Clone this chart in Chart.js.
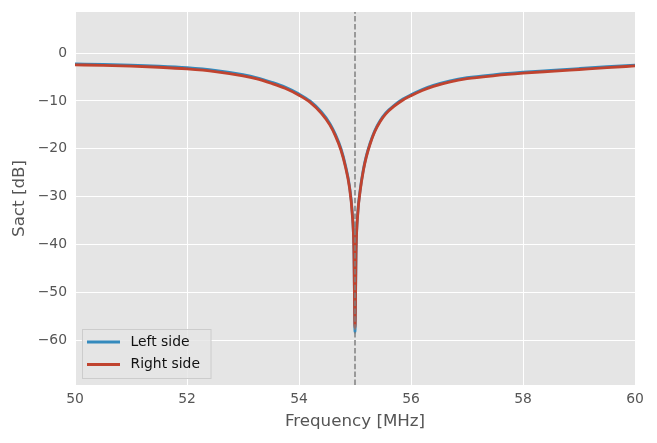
<!DOCTYPE html>
<html>
<head>
<meta charset="utf-8">
<script src="https://cdn.jsdelivr.net/npm/chart.js@4.4.1/dist/chart.umd.min.js"></script>
<style>
  html, body { margin: 0; padding: 0; background: #ffffff; }
  #wrap { width: 657px; height: 443px; }
</style>
</head>
<body>
<div id="wrap"><canvas id="chart" width="657" height="443"></canvas></div>
<script>
// Data
const freq = [50, 50.5, 51, 51.5, 52, 52.5, 53, 53.25, 53.5, 53.75, 54, 54.2, 54.4, 54.55, 54.65, 54.75, 54.83, 54.9, 54.95, 54.98, 55,
              55.02, 55.05, 55.09, 55.15, 55.2, 55.27, 55.35, 55.45, 55.55, 55.7, 55.85, 56, 56.2, 56.4, 56.7, 57, 57.5, 58, 58.5, 59, 59.5, 60];
const leftSide = [-2.25, -2.35, -2.5, -2.72, -3.05, -3.6, -4.5, -5.15, -6.05, -7.1, -8.55, -10.05, -12.3, -14.7, -17.0, -20.0, -23.5, -27.7, -33.2, -41, -58.4,
                  -41, -33.3, -28.8, -24.3, -21.6, -18.8, -16.3, -14.1, -12.5, -10.9, -9.65, -8.7, -7.6, -6.75, -5.8, -5.15, -4.5, -4.0, -3.6, -3.22, -2.85, -2.5];
const rightSide = [-2.45, -2.55, -2.7, -2.95, -3.3, -3.85, -4.75, -5.4, -6.3, -7.35, -8.8, -10.3, -12.6, -15.0, -17.3, -20.3, -23.8, -28.0, -33.5, -41, -57.4,
                   -41, -33.5, -29.0, -24.5, -21.8, -19.0, -16.5, -14.3, -12.7, -11.1, -9.85, -8.9, -7.8, -6.95, -6.0, -5.35, -4.7, -4.2, -3.8, -3.42, -3.04, -2.68];
const xTicks = [50, 52, 54, 56, 58, 60];
const yTicks = [-60, -50, -40, -30, -20, -10, 0];
const xRange = [50, 60];
const yRange = [-69.4, 8.6];
const resonance = 55;
const seriesNames = ['Left side', 'Right side'];
const seriesColors = ['#348ABD', '#C0432F'];

const FONT = "'DejaVu Sans', sans-serif";

// grey panel behind the plot
const panelBg = {
    id: 'panelBg',
    beforeDraw(chart) {
        const { ctx, chartArea: a } = chart;
        ctx.save();
        ctx.fillStyle = '#E5E5E5';
        ctx.fillRect(a.left, a.top, a.right - a.left, a.bottom - a.top);
        ctx.restore();
    }
};

// legend box in the lower left corner of the plot
const innerLegend = {
    id: 'innerLegend',
    afterDraw(chart) {
        const { ctx, chartArea: a } = chart;
        const x = a.left + 7.5, y = a.bottom - 55.5, w = 128.5, h = 49;
        ctx.save();
        ctx.fillStyle = 'rgba(229,229,229,0.8)';
        ctx.fillRect(x, y, w, h);
        ctx.strokeStyle = '#CCCCCC';
        ctx.lineWidth = 1;
        ctx.strokeRect(x, y, w, h);
        ctx.font = '13.9px ' + FONT;
        ctx.textBaseline = 'middle';
        ctx.textAlign = 'left';
        seriesNames.forEach((name, i) => {
            const ly = y + 12.5 + i * 22.5;
            ctx.strokeStyle = seriesColors[i];
            ctx.lineWidth = 2.8;
            ctx.beginPath();
            ctx.moveTo(x + 4.5, ly);
            ctx.lineTo(x + 37.5, ly);
            ctx.stroke();
            ctx.fillStyle = '#111111';
            ctx.fillText(name, x + 48, ly);
        });
        ctx.restore();
    }
};

const minus = v => String(v).replace('-', '\u2212');

new Chart(document.getElementById('chart'), {
    type: 'line',
    data: {
        datasets: [
            {
                label: 'f0',
                data: [{ x: resonance, y: yRange[0] }, { x: resonance, y: yRange[1] }],
                borderColor: '#808080',
                borderWidth: 1.5,
                borderDash: [5.5, 2.4],
                pointRadius: 0
            },
            {
                label: seriesNames[1],
                data: freq.map((f, i) => ({ x: f, y: rightSide[i] })),
                borderColor: seriesColors[1],
                borderWidth: 2.8,
                cubicInterpolationMode: 'monotone',
                pointRadius: 0
            },
            {
                label: seriesNames[0],
                data: freq.map((f, i) => ({ x: f, y: leftSide[i] })),
                borderColor: seriesColors[0],
                borderWidth: 2.8,
                cubicInterpolationMode: 'monotone',
                pointRadius: 0
            }
        ]
    },
    options: {
        responsive: false,
        animation: false,
        layout: { padding: { left: 0, top: 12, right: 22, bottom: 0 } },
        plugins: {
            legend: { display: false },
            tooltip: { enabled: false }
        },
        scales: {
            x: {
                type: 'linear',
                min: xRange[0],
                max: xRange[1],
                afterBuildTicks: s => { s.ticks = xTicks.map(v => ({ value: v })); },
                afterFit: s => { s.height = 58; s.paddingLeft = 0; s.paddingRight = 0; },
                grid: { color: '#FFFFFF', lineWidth: 1, drawTicks: false },
                border: { display: false },
                ticks: {
                    color: '#555555',
                    padding: 6,
                    font: { family: FONT, size: 13.9 },
                    callback: v => minus(v)
                },
                title: {
                    display: true,
                    text: 'Frequency [MHz]',
                    color: '#555555',
                    font: { family: FONT, size: 16.7 },
                    padding: { top: 0, bottom: 11 }
                }
            },
            y: {
                type: 'linear',
                min: yRange[0],
                max: yRange[1],
                afterBuildTicks: s => { s.ticks = yTicks.map(v => ({ value: v })); },
                afterFit: s => { s.width = 75; s.paddingTop = 0; s.paddingBottom = 0; },
                grid: { color: '#FFFFFF', lineWidth: 1, drawTicks: false },
                border: { display: false },
                ticks: {
                    color: '#555555',
                    padding: 8,
                    font: { family: FONT, size: 13.9 },
                    callback: v => minus(v)
                },
                title: {
                    display: true,
                    text: 'Sact [dB]',
                    color: '#555555',
                    font: { family: FONT, size: 16.7 },
                    padding: { top: 10, bottom: 0 }
                }
            }
        }
    },
    plugins: [panelBg, innerLegend]
});
</script>
</body>
</html>
